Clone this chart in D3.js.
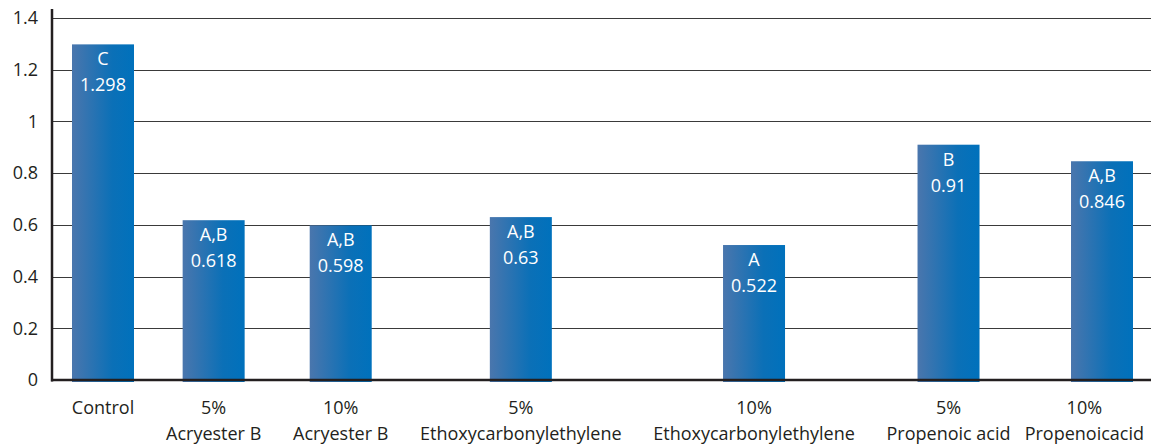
<!DOCTYPE html>
<html>
<head>
<meta charset="utf-8">
<script src="https://cdn.jsdelivr.net/npm/d3@7"></script>
<style>
  html, body { margin: 0; padding: 0; background: #fff; }
  svg { display: block; font-family: "Open Sans", "Noto Sans", sans-serif; }
</style>
</head>
<body>
<svg id="chart" width="1160" height="446"></svg>
<script>
// Treatment labels, one entry per bar (each entry is the stacked label lines)
const labelLines = [
  ["Control"],
  ["5%", "Acryester B"],
  ["10%", "Acryester B"],
  ["5%", "Ethoxycarbonylethylene"],
  ["10%", "Ethoxycarbonylethylene"],
  ["5%", "Propenoic acid"],
  ["10%", "Propenoicacid"]
];
// Measured value per treatment
const values = [1.298, 0.618, 0.598, 0.63, 0.522, 0.91, 0.846];
// Significance letters per treatment
const groups = ["C", "A,B", "A,B", "A,B", "A", "B", "A,B"];
// Y axis ticks
const yTicks = [0, 0.2, 0.4, 0.6, 0.8, 1, 1.2, 1.4];

const svg = d3.select("#chart");
const fontSize = 18;
const margin = { left: 52, right: 1151, top: 18, bottom: 380 };
const barWidth = 62;
const labelRightLimit = 1144;

const y = d3.scaleLinear().domain([0, 1.4]).range([margin.bottom, margin.top]);

// Gradient fill for bars: greyish blue at left fading into saturated blue
const defs = svg.append("defs");
const grad = defs.append("linearGradient").attr("id", "barGrad")
  .attr("x1", "0%").attr("x2", "100%").attr("y1", "0%").attr("y2", "0%");
grad.append("stop").attr("offset", "0%").attr("stop-color", "#4a76ad");
grad.append("stop").attr("offset", "65%").attr("stop-color", "#0b70b7");
grad.append("stop").attr("offset", "100%").attr("stop-color", "#0071bc");

// Slot widths follow the width of each category label (labels are packed with a constant gap)
const probe = svg.append("g").attr("font-size", fontSize);
const labelWidths = labelLines.map(lines => d3.max(lines, t => {
  const node = probe.append("text").text(t).node();
  return node.getComputedTextLength();
}));
probe.remove();
const cumulative = [0];
for (let i = 1; i < labelWidths.length; i++) {
  cumulative.push(cumulative[i - 1] + (labelWidths[i - 1] + labelWidths[i]) / 2 + 32);
}
const x = d3.scaleLinear()
  .domain([0, cumulative[cumulative.length - 1]])
  .range([103, 1102]);

// Gridlines
svg.append("g").selectAll("line")
  .data(yTicks.filter(d => d > 0))
  .join("line")
  .attr("x1", margin.left).attr("x2", margin.right)
  .attr("y1", d => Math.round(y(d)) + 0.5).attr("y2", d => Math.round(y(d)) + 0.5)
  .attr("stroke", "#3a3a3a").attr("stroke-width", 1.2);

// Y tick labels
svg.append("g").selectAll("text")
  .data(yTicks)
  .join("text")
  .attr("x", 38).attr("y", d => y(d))
  .attr("dy", "0.35em")
  .attr("text-anchor", "end")
  .attr("font-size", fontSize)
  .attr("fill", "#231f20")
  .text(d => d3.format("")(d));

// Bars
const bars = svg.append("g").selectAll("g")
  .data(values.map((v, i) => ({ v, i })))
  .join("g")
  .attr("transform", d => `translate(${x(cumulative[d.i])},0)`);

bars.append("rect")
  .attr("x", -barWidth / 2)
  .attr("width", barWidth)
  .attr("y", d => y(d.v))
  .attr("height", d => y(0) - y(d.v) + 2)
  .attr("fill", "url(#barGrad)");

bars.append("text")
  .attr("y", d => y(d.v) + 21)
  .attr("text-anchor", "middle")
  .attr("font-size", fontSize)
  .attr("fill", "#fff")
  .text(d => groups[d.i]);

bars.append("text")
  .attr("y", d => y(d.v) + 47)
  .attr("text-anchor", "middle")
  .attr("font-size", fontSize)
  .attr("fill", "#fff")
  .text(d => d.v);

// Category labels (pulled left when the label would run past the plot's right edge)
bars.each(function (d) {
  const g = d3.select(this);
  const cx = x(cumulative[d.i]);
  const shift = Math.min(0, labelRightLimit - (cx + labelWidths[d.i] / 2));
  labelLines[d.i].forEach((t, k) => {
    g.append("text")
      .attr("x", shift)
      .attr("y", 414 + k * 26)
      .attr("text-anchor", "middle")
      .attr("font-size", fontSize)
      .attr("fill", "#231f20")
      .text(t);
  });
});

// Axis lines
svg.append("line")
  .attr("x1", margin.left).attr("x2", margin.left)
  .attr("y1", 9).attr("y2", margin.bottom + 1.5)
  .attr("stroke", "#231f20").attr("stroke-width", 2.5);
svg.append("line")
  .attr("x1", margin.left - 1).attr("x2", margin.right)
  .attr("y1", margin.bottom).attr("y2", margin.bottom)
  .attr("stroke", "#231f20").attr("stroke-width", 2.5);
</script>
</body>
</html>
